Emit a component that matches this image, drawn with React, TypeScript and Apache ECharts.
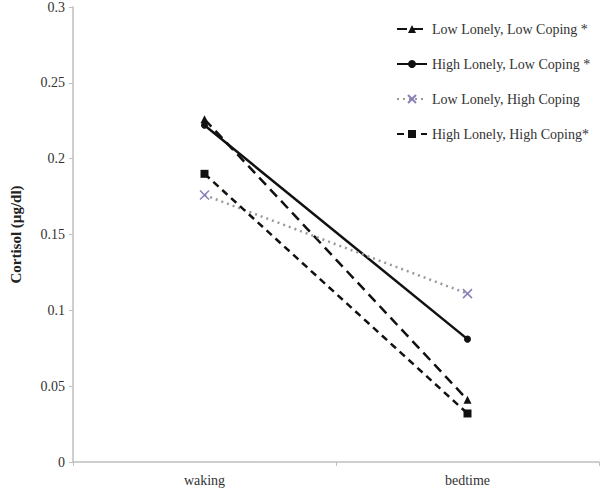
import React, { useEffect, useRef } from "react";
import * as echarts from "echarts";

const categories = ["waking", "bedtime"];
const seriesNames = [
  "Low Lonely, Low Coping *",
  "High Lonely, Low Coping *",
  "Low Lonely, High Coping",
  "High Lonely, High Coping*",
];
const lowLonelyLowCoping = [0.226, 0.041];
const highLonelyLowCoping = [0.222, 0.081];
const lowLonelyHighCoping = [0.176, 0.111];
const highLonelyHighCoping = [0.19, 0.032];
const yTicks = { min: 0, max: 0.3, interval: 0.05 };

const FONT = "'Liberation Serif', 'Times New Roman', serif";

export default function App() {
  const ref = useRef<HTMLDivElement>(null);
  useEffect(() => {
    if (!ref.current) return;
    document.body.style.margin = "0";
    const chart = echarts.init(ref.current, null, { renderer: "svg" });
    chart.setOption({
      animation: false,
      backgroundColor: "#ffffff",
      grid: { left: 64, right: 1, top: 4, bottom: 28, containLabel: false },
      legend: {
        orient: "vertical",
        left: 391,
        top: 17,
        itemWidth: 30,
        itemHeight: 10,
        itemGap: 21,
        textStyle: { fontFamily: FONT, fontSize: 14, color: "#333" },
        data: seriesNames,
      },
      xAxis: {
        type: "category",
        data: categories,
        boundaryGap: true,
        axisLine: { lineStyle: { color: "#bfbfbf", width: 1.5 } },
        axisTick: { show: true, length: 4, lineStyle: { color: "#bfbfbf" } },
        axisLabel: { fontFamily: FONT, fontSize: 14, color: "#333", margin: 11 },
      },
      yAxis: {
        type: "value",
        min: yTicks.min,
        max: yTicks.max,
        interval: yTicks.interval,
        name: "Cortisol (µg/dl)",
        nameLocation: "middle",
        nameGap: 50,
        nameTextStyle: { fontFamily: FONT, fontSize: 15, fontWeight: "bold", color: "#222" },
        axisLine: { show: true, lineStyle: { color: "#bfbfbf", width: 1.5 } },
        axisTick: { show: true, length: 4, lineStyle: { color: "#bfbfbf" } },
        splitLine: { show: false },
        axisLabel: { fontFamily: FONT, fontSize: 14, color: "#333", margin: 8 },
      },
      series: [
        {
          name: seriesNames[0],
          type: "line",
          data: lowLonelyLowCoping,
          symbol: "triangle",
          symbolSize: 8,
          lineStyle: { color: "#111", width: 2.5, type: [10, 6] },
          itemStyle: { color: "#111" },
        },
        {
          name: seriesNames[1],
          type: "line",
          data: highLonelyLowCoping,
          symbol: "circle",
          symbolSize: 7,
          lineStyle: { color: "#111", width: 2.5, type: "solid" },
          itemStyle: { color: "#111" },
        },
        {
          name: seriesNames[2],
          type: "line",
          data: lowLonelyHighCoping,
          symbol: "path://M0,0L10,10M10,0L0,10",
          symbolSize: 9,
          lineStyle: { color: "#9a9a9a", width: 2.5, type: [2, 4] },
          itemStyle: { color: "none", borderColor: "#8b7fb8", borderWidth: 1.5 },
        },
        {
          name: seriesNames[3],
          type: "line",
          data: highLonelyHighCoping,
          symbol: "rect",
          symbolSize: 8,
          lineStyle: { color: "#111", width: 2.5, type: [7, 5] },
          itemStyle: { color: "#111" },
        },
      ],
    });
    return () => chart.dispose();
  }, []);
  return <div ref={ref} style={{ width: 600, height: 490 }} />;
}
